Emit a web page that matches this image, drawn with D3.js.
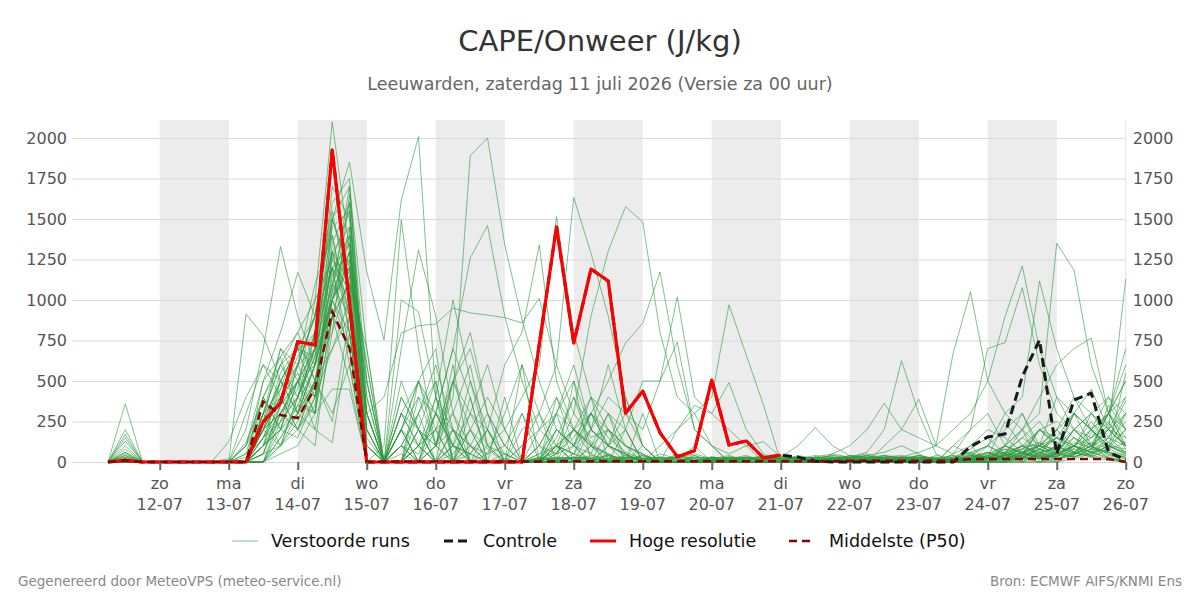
<!DOCTYPE html>
<html><head><meta charset="utf-8">
<script src="https://cdn.jsdelivr.net/npm/d3@7"></script>
<style>body{margin:0;background:#fff}svg{display:block;font-family:"DejaVu Sans",sans-serif}</style>
</head><body><svg id="c" width="1200" height="600"></svg>
<script>
// ---- data ----
const startTime = "2026-07-11T06:00:00Z";
const stepHours = 6;
const endTime = "2026-07-26T00:00:00Z";
const dayTicks = ["2026-07-12","2026-07-13","2026-07-14","2026-07-15","2026-07-16","2026-07-17","2026-07-18","2026-07-19","2026-07-20","2026-07-21","2026-07-22","2026-07-23","2026-07-24","2026-07-25","2026-07-26"];
const dayNames = ["zo","ma","di","wo","do","vr","za","zo","ma","di","wo","do","vr","za","zo"];
const dayLabels = ["12-07","13-07","14-07","15-07","16-07","17-07","18-07","19-07","20-07","21-07","22-07","23-07","24-07","25-07","26-07"];
const shadedDays = ["2026-07-12","2026-07-14","2026-07-16","2026-07-18","2026-07-20","2026-07-22","2026-07-24"];
const yTicks = [0,250,500,750,1000,1250,1500,1750,2000];

const hogeResolutie = [0,10,0,0,0,0,0,0,0, 249,364,743,722,1926,980, 0,0,0,0,0,0,0,0,0,0, 726,1452,734,1191,1117,301,438,181,33,70,506,105,130,25,43];
const controle = [0,10,0,0,0,0,0,0,0, 249,364,743,722,1926,980, 0,0,0,0,0,0,0,0,0,0, 726,1452,734,1191,1117,301,438,181,33,70,506,105,130,25,43, 30,5,0,0,0,0,0,0,0, 0,95,154,173,527,753,49,383,425,62,12];
const middelste = [0,10,0, 0,0,0,0,0, 0,372,290,271,456,928,704,0,3, 3,3,3,3,3,3,3,3, 3,4,4,4,4,4,4,4,4,4, 4,4,4,4,4, 4,4,4,8,8,8,8,8,8, 8,18,18,18,18,18,18,18,18,18,0];

const verstoordeRuns = [
[0,360,0, 0,0,0,0,0, 120,400,650,800,1000,2100,1300,200,0, 300,100,0,50,200,80,0,0, 20,60,150,300,100,40,10,0,30,50, 20,10,0,0,0, 10,0,20,30,0,10,0,20,10, 30,80,150,50,20,100,200,60,30,80,120],
[0,200,0, 0,0,0,0,0, 0,250,500,700,900,1500,1850,1175,753, 1617,2008,400,100,50,0,20,0, 0,80,200,120,40,0,0,50,20,0, 30,0,0,0,0, 0,10,0,0,20,0,10,0,0, 20,50,30,250,100,40,60,300,200,80,40],
[0,170,0, 0,0,0,0,0, 0,300,600,400,700,1400,900,100,0, 200,500,100,400,1891,2000,1340,880, 500,200,100,300,150,60,20,0,0,40, 0,20,0,0,0, 0,0,10,0,0,20,0,0,10, 0,30,60,20,100,50,30,150,80,60,20],
[0,150,0, 0,0,0,0,0, 50,200,400,650,800,1200,1000,300,400, 796,841,852,950,920,907,891,858, 1010,600,300,150,200,100,40,0,20,10, 0,10,0,0,0, 20,0,0,10,0,0,30,0,0, 20,60,100,40,20,80,150,60,40,100,60],
[0,100,0, 0,0,0,0,0, 30,150,350,500,600,1100,1600,200,0, 100,50,300,700,1259,1459,900,500, 200,100,50,0,0,30,0,20,0,0, 10,0,0,0,0, 0,0,0,20,0,0,0,10,0, 10,20,40,100,300,60,20,40,100,200,150],
[0,80,0, 0,0,0,0,0, 200,700,1329,900,600,1000,700,0,100, 1493,700,100,0,0,100,50,0, 0,150,400,100,30,0,0,10,0,0, 0,0,0,0,0, 0,0,0,0,10,0,0,0,20, 40,10,0,30,80,120,60,300,100,20,0],
[0,60,0, 0,0,0,0,0, 913,780,500,400,700,1700,1500,300,0, 200,100,400,1000,500,200,50,0, 100,300,600,200,100,50,0,0,0,20, 0,0,30,0,0, 0,10,0,0,0,0,0,30,0, 0,0,60,20,40,200,100,30,60,150,300],
[0,40,0, 0,0,0,0,0, 100,500,800,1170,900,1600,1750,150,0, 1000,928,400,200,100,0,0,0, 30,100,50,20,0,0,40,0,0,0, 0,0,0,10,0, 0,20,0,0,0,10,0,0,0, 30,60,20,10,40,80,30,100,60,20,10],
[0,30,0, 0,0,0,0,0, 0,100,250,600,1100,1400,800,0,0, 700,1309,900,300,100,0,0,0, 0,50,200,400,300,100,0,0,0,0, 20,0,0,0,0, 0,0,0,0,0,20,0,0,0, 0,20,0,60,150,250,100,50,80,300,700],
[0,20,0, 0,0,0,0,0, 0,50,300,500,400,1300,1450,100,0, 300,200,100,0,50,200,600,800, 1340,500,200,100,50,0,0,0,0,0, 0,0,0,0,0, 0,0,30,0,0,0,0,0,0, 0,0,40,80,30,20,50,100,60,30,0],
[0,10,0, 0,0,0,0,0, 300,600,400,300,500,1000,1200,600,0, 0,100,300,200,100,50,300,600, 300,600,1632,1289,900,400,100,0,0,0, 0,0,0,0,0, 0,0,0,10,0,0,0,0,0, 10,40,20,0,50,100,400,200,100,50,30],
[0,0,0, 0,0,0,0,0, 0,200,500,300,800,1300,1100,0,0, 200,0,100,500,300,100,200,400, 600,1514,800,400,200,50,0,0,0,0, 0,0,0,20,0, 0,0,0,0,0,0,0,0,0, 0,10,30,20,60,100,50,200,300,150,100],
[0,50,0, 0,0,0,0,0, 100,300,700,500,300,900,1300,400,0, 200,500,300,100,0,50,100,300, 100,50,300,900,1302,1576,1481,800,400,300, 100,0,0,0,0, 0,0,0,0,20,0,0,0,0, 0,0,20,100,50,30,0,20,50,100,80],
[0,0,0, 0,0,0,0,0, 50,400,200,600,900,1500,1200,0,0, 100,300,500,0,100,0,50,0, 200,400,100,300,500,734,857,1173,600,200, 100,0,0,0,0, 0,0,20,0,0,0,0,0,0, 0,0,0,40,80,200,150,100,60,80,200],
[0,0,0, 0,0,0,0,0, 0,150,450,750,500,1150,1400,300,0, 400,200,0,100,300,200,0,0, 0,200,100,50,300,200,500,500,1020,400, 300,200,100,0,0, 0,0,0,10,0,0,0,0,0, 0,0,30,60,100,40,20,60,150,200,100],
[0,0,0, 0,0,0,0,0, 0,0,200,500,700,1100,900,0,0, 100,300,600,200,0,0,0,0, 0,100,200,100,50,0,0,100,200,300, 400,970,660,352,0, 0,0,0,0,0,0,0,0,0, 0,0,0,20,60,30,50,100,40,20,0],
[0,0,0, 0,0,0,0,0, 0,100,400,200,350,1000,1300,100,0, 0,200,100,500,700,300,100,0, 0,300,500,200,100,300,100,0,200,350, 300,490,200,50,0, 0,0,0,0,0,0,0,0,0, 10,30,0,0,20,40,200,100,30,10,0],
[0,0,0, 0,0,0,0,0, 0,200,300,400,650,1250,1050,0,0, 300,100,0,0,200,400,200,0, 100,0,50,200,400,300,200,500,740,200, 100,50,100,125,30, 100,212,100,40,20,0,0,0,0, 0,20,10,0,30,0,20,50,100,30,0],
[0,0,0, 0,0,0,0,0, 0,0,100,300,600,800,1650,500,0, 100,0,200,300,600,100,0,0, 0,100,50,300,200,100,50,0,0,0, 0,0,0,0,0, 20,0,50,30,60,200,625,300,50, 0,100,200,150,60,100,50,30,80,200,400],
[0,10,0, 0,0,0,0,0, 0,300,600,800,500,700,900,0,0, 200,400,300,100,50,200,0,0, 50,200,100,0,100,50,0,0,0,100, 0,0,0,0,0, 0,30,50,100,200,363,200,388,100, 50,200,300,100,50,200,100,50,200,300,150],
[0,0,0, 0,0,0,0,0, 0,100,500,700,400,1000,800,200,0, 0,100,200,0,100,300,100,0, 50,100,200,300,100,0,0,0,0,0, 0,0,0,0,0, 0,0,20,0,0,100,200,150,100, 675,1051,500,300,200,100,150,80,300,400,200],
[0,0,0, 0,0,0,0,0, 0,0,300,200,100,900,1100,700,0, 0,0,0,0,0,0,0,0, 0,50,100,200,100,50,0,0,0,0, 0,0,0,0,0, 0,0,0,0,0,0,30,60,100, 200,300,500,897,1210,700,400,300,200,300,600],
[0,0,0, 0,0,0,0,0, 0,200,400,600,900,1550,1000,0,0, 100,0,100,200,0,0,0,0, 0,0,0,100,200,100,50,0,0,0, 0,0,0,0,0, 0,0,0,20,40,60,100,50,0, 100,200,700,737,1076,600,300,200,100,300,500],
[0,0,0, 0,0,0,0,0, 0,100,200,500,700,1200,1350,0,0, 0,100,0,0,0,0,0,0, 0,0,0,0,0,0,0,0,0,0, 0,0,0,0,0, 0,0,0,0,20,0,0,0,0, 0,0,100,300,400,1117,700,400,200,100,50],
[0,0,0, 0,0,0,0,0, 0,0,150,350,600,1000,1250,300,0, 0,0,100,300,0,0,0,0, 0,100,0,0,0,0,0,0,50,0, 0,0,0,0,0, 0,0,0,0,0,30,0,0,0, 50,100,0,50,200,300,1350,1185,600,300,200],
[0,0,0, 0,0,0,0,0, 0,150,250,400,800,1300,900,0,0, 0,0,0,100,0,0,0,0, 0,0,0,0,100,200,0,0,0,0, 0,0,0,0,0, 0,0,0,0,0,0,0,0,0, 0,50,100,200,300,100,200,300,450,200,1130],
[0,0,0, 0,0,0,0,0, 0,50,350,600,900,1200,700,0,0, 0,0,0,0,0,0,0,0, 0,0,0,0,0,0,0,0,0,0, 0,0,0,0,0, 0,0,0,0,0,0,0,0,0, 100,50,0,100,200,400,600,700,765,300,100],
[0,20,0, 0,0,0,0,20, 0,300,450,600,700,900,500,0,0, 0,300,0,200,0,0,0,0, 0,0,100,0,50,0,0,0,0,0, 0,30,0,0,0, 0,0,0,0,0,0,0,0,0, 0,40,100,50,0,60,150,300,200,100,50],
[0,40,0, 0,0,0,0,0, 100,400,200,300,500,1050,1700,300,0, 50,0,0,100,50,0,0,0, 0,0,200,100,0,0,0,0,0,0, 0,0,0,0,0, 0,0,0,0,0,0,0,0,0, 0,0,0,0,30,100,200,400,300,200,100],
[0,30,0, 0,0,0,0,0, 0,500,650,300,200,800,1150,500,0, 0,100,200,500,200,0,0,0, 100,300,200,50,0,0,0,0,0,0, 0,0,0,0,0, 0,0,0,0,0,0,0,0,0, 0,0,0,0,0,0,50,100,150,300,500],
[0,0,0, 0,0,0,0,125, 400,600,500,700,600,1050,1300,600,0, 500,200,0,0,0,0,0,100, 300,0,0,0,0,0,0,0,0,0, 0,0,0,0,0, 0,0,0,0,0,0,0,0,0, 0,0,20,50,100,200,250,150,100,50,0],
[0,60,0, 0,0,0,0,0, 0,150,300,500,800,1450,1550,400,0, 300,500,200,0,0,0,0,200, 300,100,0,0,0,0,0,0,0,0, 0,0,0,0,0, 0,0,0,0,0,0,0,0,0, 0,0,0,50,100,100,50,200,100,300,400],
[0,130,0, 0,0,0,0,0, 0,200,550,700,750,1200,600,0,0, 0,0,300,700,400,0,0,0, 0,0,0,100,300,0,0,0,0,0, 0,0,0,0,0, 0,0,0,0,0,0,0,0,0, 20,20,50,100,60,30,100,200,300,200,100],
[0,0,0, 0,0,0,0,0, 0,0,250,400,650,1500,1700,700,0, 0,200,0,0,0,0,0,0, 0,0,0,0,0,200,0,0,0,0, 0,0,0,0,0, 0,0,0,0,0,0,0,0,0, 0,0,0,0,0,0,0,50,100,200,300],
[0,0,0, 0,0,0,0,0, 0,250,700,600,400,1300,800,0,0, 0,0,0,0,0,0,0,0, 0,100,0,0,0,0,0,0,0,0, 0,0,0,0,0, 0,0,0,0,0,0,0,0,0, 0,0,0,0,0,50,100,300,200,100,50],
[0,0,0, 0,0,0,0,0, 0,100,200,350,300,1100,1350,500,0, 200,0,0,500,800,300,0,0, 0,0,0,0,0,0,0,0,0,0, 0,0,0,0,0, 0,0,0,0,0,0,0,0,0, 0,0,0,100,200,0,0,100,200,400,300],
[0,0,0, 0,0,0,0,0, 0,300,400,200,500,900,1100,0,0, 0,0,0,0,0,0,0,0, 10,30,20,0,40,20,10,30,20,10, 20,30,10,20,10, 10,20,10,30,20,10,20,40,20, 10,20,40,20,60,100,80,150,50,100,200],
[0,20,0, 0,0,0,0,0, 0,400,600,700,650,1000,1400,0,0, 0,500,700,0,0,0,0,0, 0,0,0,0,200,0,0,0,0,0, 10,20,30,10,20, 30,10,20,40,30,20,10,30,20, 20,10,30,60,150,80,40,100,250,120,60],
[0,0,0, 0,0,0,0,0, 0,200,300,450,1000,1250,1550,200,0, 0,0,0,0,0,0,0,0, 20,10,30,20,10,30,20,10,40,20, 30,20,40,10,20, 20,40,30,10,20,30,40,20,10, 0,30,20,10,40,200,120,60,30,80,300],
[0,0,0, 0,0,0,0,0, 0,50,100,250,500,300,600,0,0, 0,0,0,0,0,0,0,0, 0,20,10,40,20,10,20,30,10,0, 20,10,20,30,10, 40,20,10,30,50,20,30,10,20, 10,0,20,40,80,30,60,200,150,250,80],
[0,0,0, 0,0,0,0,0, 0,100,300,200,400,700,1000,0,0, 400,200,500,0,300,600,200,0, 0,200,100,400,0,0,100,0,0,0, 10,20,10,30,20, 10,30,20,10,20,40,20,10,30, 0,20,60,30,20,50,100,60,120,40,20],
[0,0,0, 0,0,0,0,0, 0,0,150,300,600,1000,1200,300,0, 0,400,100,600,0,200,0,300, 0,100,400,200,600,200,0,0,0,0, 20,10,30,10,20, 30,20,40,20,10,30,20,40,10, 30,10,0,40,100,60,30,80,40,150,380],
[0,0,0, 0,0,0,0,0, 0,200,100,400,300,900,700,100,0, 100,0,300,100,500,100,0,100, 200,300,0,200,100,400,100,0,0,0, 10,30,20,10,40, 20,10,30,20,40,10,30,20,20, 0,40,20,80,60,20,50,100,200,60,30],
[0,0,0, 0,0,0,0,0, 0,300,100,200,500,250,900,0,0, 0,200,0,0,400,0,0,600, 0,0,500,0,0,0,300,0,0,0, 20,10,20,30,10, 10,20,40,30,10,20,30,10,40, 20,0,30,20,40,120,60,30,80,240,100],
[0,0,0, 0,0,0,0,0, 0,50,350,500,200,120,800,0,0, 0,0,400,0,200,0,400,0, 0,400,200,100,0,0,0,0,0,0, 30,20,10,20,30, 20,30,10,20,30,40,10,20,30, 0,10,40,60,30,80,150,100,60,350,200],
[0,0,0, 0,0,0,0,0, 0,0,50,100,300,450,450,0,0, 200,0,0,0,0,0,0,0, 10,20,30,10,20,40,20,10,30,20, 10,20,30,20,10, 30,20,10,40,20,30,20,10,20, 40,20,10,30,50,20,40,60,120,80,550],
[0,0,0, 0,0,0,0,0, 0,100,200,150,400,1200,1250,0,0, 0,0,0,200,0,0,0,0, 20,10,20,30,10,20,30,20,10,30, 20,10,20,10,30, 20,10,30,20,10,40,30,20,10, 0,30,60,20,10,40,30,120,90,60,40],
[0,0,0, 0,0,0,0,0, 0,200,400,550,300,1500,1150,0,0, 0,0,0,0,0,0,0,0, 30,20,10,20,40,10,20,30,20,10, 30,20,10,30,20, 10,30,20,10,30,20,10,40,20, 10,20,0,50,30,60,80,40,180,300,100],
[0,0,0, 0,0,0,0,0, 0,0,100,400,700,1000,1450,0,0, 0,0,0,0,0,0,0,0, 10,30,20,10,20,30,10,20,30,40, 10,30,20,40,20, 20,10,20,30,40,20,10,30,20, 0,0,20,40,60,30,20,50,100,150,60],
[0,0,0, 0,0,0,0,0, 0,250,500,300,600,1350,1600,0,0, 0,0,0,0,0,0,0,0, 20,10,30,20,10,20,40,20,10,30, 20,40,10,20,30, 30,20,10,20,30,10,20,30,10, 20,40,30,10,20,80,50,30,60,120,250]
];

const legendItems = ["Verstoorde runs","Controle","Hoge resolutie","Middelste (P50)"];
const titleText = "CAPE/Onweer (J/kg)";
const subtitleText = "Leeuwarden, zaterdag 11 juli 2026 (Versie za 00 uur)";
const footLeft = "Gegenereerd door MeteoVPS (meteo-service.nl)";
const footRight = "Bron: ECMWF AIFS/KNMI Ens";

// ---- drawing ----
const svg = d3.select("#c");
const t0 = new Date(startTime);
const times = d3.range(60).map(i => new Date(t0.getTime() + i*stepHours*3600e3));
const x = d3.scaleUtc().domain([t0, new Date(endTime)]).range([108, 1125.75]);
const y = d3.scaleLinear().domain([0, 2111]).range([462, 120]);
const yTop = y(2111), yBot = y(0);
const DAY = 864e5;

svg.append("g").selectAll("rect").data(shadedDays).join("rect")
  .attr("x", d => x(new Date(d+"T00:00:00Z")))
  .attr("width", d => x(new Date(new Date(d+"T00:00:00Z").getTime()+DAY)) - x(new Date(d+"T00:00:00Z")))
  .attr("y", yTop).attr("height", yBot-yTop).attr("fill", "#ececec");

svg.append("g").selectAll("line").data(yTicks).join("line")
  .attr("x1", 72).attr("x2", x.range()[1]).attr("y1", d => y(d)+0.5).attr("y2", d => y(d)+0.5)
  .attr("stroke", "#d8d8d8").attr("stroke-width", 1);
svg.append("line").attr("x1", x.range()[1]).attr("x2", x.range()[1]).attr("y1", yTop).attr("y2", yBot)
  .attr("stroke", "#e2e2e2");

const line = d3.line().x((d,i) => x(times[i])).y(d => y(d));
svg.append("g").selectAll("path").data(verstoordeRuns).join("path")
  .attr("d", line).attr("fill", "none").attr("stroke", "#2b9a3e").attr("stroke-opacity", 0.6).attr("stroke-width", 1);
svg.append("path").attr("d", line(controle)).attr("fill","none").attr("stroke","#1a1a1a").attr("stroke-width",3).attr("stroke-dasharray","9,5");
svg.append("path").attr("d", line(hogeResolutie)).attr("fill","none").attr("stroke","#ff0000").attr("stroke-width",3.2).attr("stroke-linejoin","round");
svg.append("path").attr("d", line(middelste)).attr("fill","none").attr("stroke","#8b0000").attr("stroke-width",2.5).attr("stroke-dasharray","8,5");

// x axis
const xa = svg.append("g").attr("transform", `translate(0,${yBot})`)
  .call(d3.axisBottom(x).tickValues(dayTicks.map(d => new Date(d+"T00:00:00Z"))).tickSize(8).tickPadding(6).tickFormat(""));
xa.select(".domain").remove();
xa.selectAll(".tick line").attr("stroke","#666").attr("stroke-width",2);
xa.selectAll(".tick text").remove();
const xl = svg.append("g").attr("font-size",16).attr("fill","#555").attr("text-anchor","middle");
dayTicks.forEach((d,i) => {
  const px = x(new Date(d+"T00:00:00Z"));
  xl.append("text").attr("x",px).attr("y",489).text(dayNames[i]);
  xl.append("text").attr("x",px).attr("y",510).text(dayLabels[i]);
});

// y axes
const yl = svg.append("g").attr("transform","translate(72,0)")
  .call(d3.axisLeft(y).tickValues(yTicks).tickSize(0).tickPadding(5).tickFormat(d3.format("d")));
yl.select(".domain").remove();
yl.selectAll("text").attr("font-size",16).attr("fill","#555").attr("font-family","DejaVu Sans");
const yr = svg.append("g").attr("transform",`translate(${x.range()[1]+2},0)`)
  .call(d3.axisRight(y).tickValues(yTicks).tickSize(0).tickPadding(5).tickFormat(d3.format("d")));
yr.select(".domain").remove();
yr.selectAll("text").attr("font-size",16).attr("fill","#555").attr("font-family","DejaVu Sans");

// titles
svg.append("text").attr("x",600).attr("y",51).attr("text-anchor","middle").attr("font-size",29).attr("fill","#333").text(titleText);
svg.append("text").attr("x",600).attr("y",90).attr("text-anchor","middle").attr("font-size",17.5).attr("fill","#666").text(subtitleText);

// legend
const lg = svg.append("g").attr("font-size",17.5).attr("fill","#111");
const lx = [232, 444, 590, 789];
const ltx = [271, 483, 629, 829];
lg.append("line").attr("x1",lx[0]).attr("x2",lx[0]+26).attr("y1",541).attr("y2",541).attr("stroke","#2b9a3e").attr("stroke-opacity",0.6).attr("stroke-width",1);
lg.append("line").attr("x1",lx[1]).attr("x2",lx[1]+26).attr("y1",541).attr("y2",541).attr("stroke","#1a1a1a").attr("stroke-width",3).attr("stroke-dasharray","9,5");
lg.append("line").attr("x1",lx[2]).attr("x2",lx[2]+26).attr("y1",541).attr("y2",541).attr("stroke","#ff0000").attr("stroke-width",3);
lg.append("line").attr("x1",lx[3]).attr("x2",lx[3]+26).attr("y1",541).attr("y2",541).attr("stroke","#8b0000").attr("stroke-width",2.5).attr("stroke-dasharray","8,5");
legendItems.forEach((t,i) => lg.append("text").attr("x",ltx[i]).attr("y",547).text(t));

// footer
svg.append("text").attr("x",18).attr("y",586).attr("font-size",13.5).attr("fill","#888").text(footLeft);
svg.append("text").attr("x",1182).attr("y",586).attr("text-anchor","end").attr("font-size",13.5).attr("fill","#888").text(footRight);
</script></body></html>
